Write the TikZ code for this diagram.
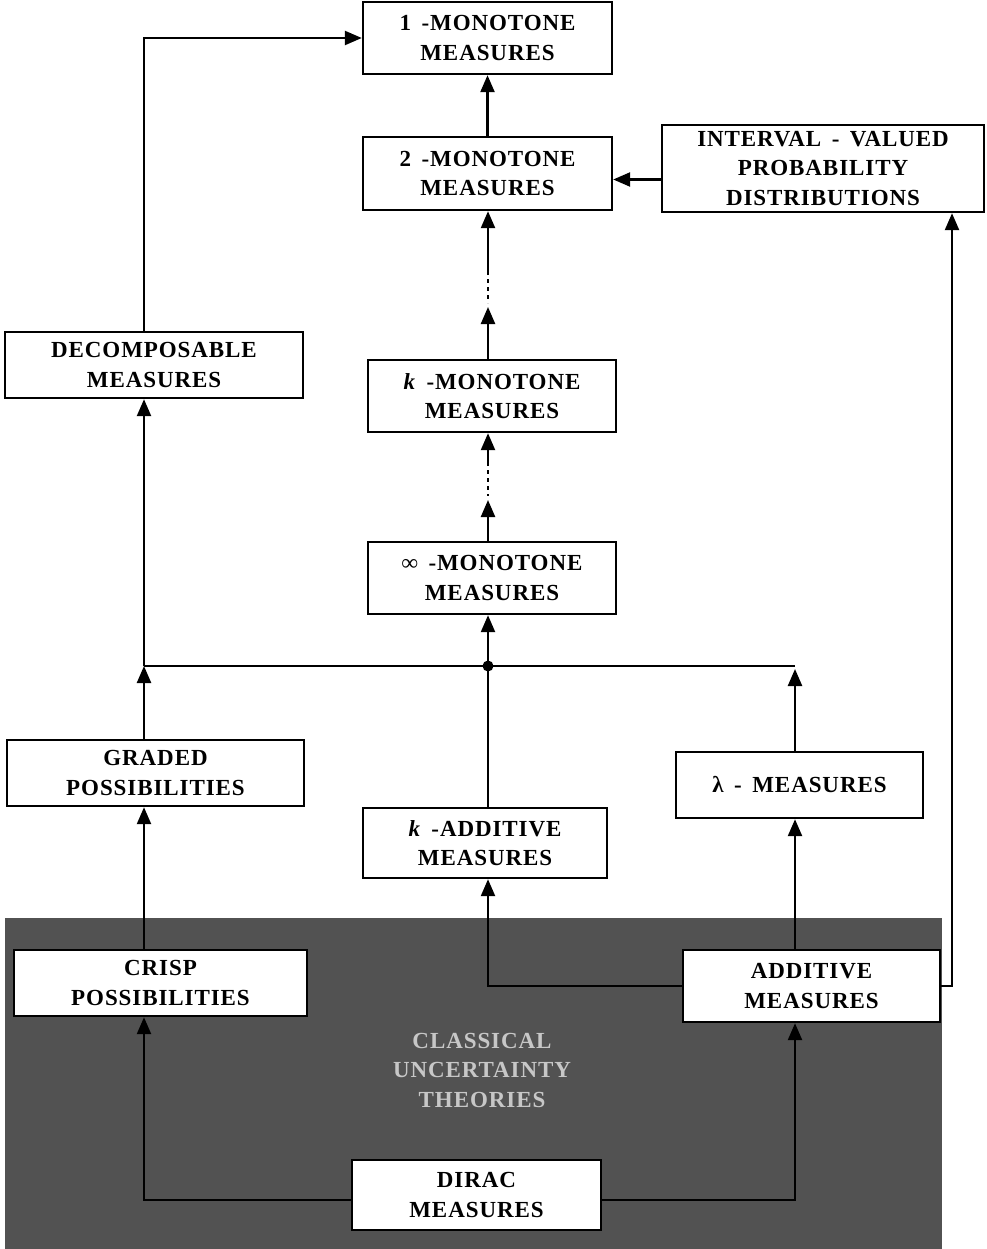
\documentclass[tikz,border=0pt]{standalone}
\usepackage{fontspec}
\setmainfont{Liberation Serif}[LetterSpace=4]
\usetikzlibrary{arrows.meta,calc}
\begin{document}
\begin{tikzpicture}[x=1pt,y=-1pt,
  mbox/.style={draw,line width=2.4pt,fill=white,inner sep=0pt,align=center,
     font=\fontsize{23}{29.5}\selectfont\bfseries},
  arr/.style={line width=2.4pt,-{Triangle[width=14pt,length=17pt]}},
  con/.style={line width=2.4pt},
  dots/.style={line width=2.6pt,dash pattern=on 4pt off 4pt},
  classtext/.style={align=center,text=black!22,
     font=\fontsize{23}{29.5}\selectfont\bfseries}]
\useasboundingbox[fill=white] (0,0) rectangle (986,1249);
% dark region
\fill[black!68] (5,918) rectangle (942,1249);
\node[classtext] (cl) at (482,1070) {CLASSICAL\\UNCERTAINTY\\THEORIES};
% junction coordinates
\coordinate (jl) at (144,666);
\coordinate (jd) at (488,666);
\coordinate (jr) at (795,666);
\coordinate (ivr) at (952,0);
% boxes
\node[mbox,minimum width=249pt,minimum height=72pt] (M1) at (487.5,38) {1 \,-MONOTONE\\MEASURES};
\node[mbox,minimum width=249pt,minimum height=73pt] (M2) at (487.5,173.5) {2 \,-MONOTONE\\MEASURES};
\node[mbox,minimum width=322pt,minimum height=87pt] (IV) at (823,168.5) {INTERVAL \,- \,VALUED\\PROBABILITY\\DISTRIBUTIONS};
\node[mbox,minimum width=298pt,minimum height=66pt] (DEC) at (154,365) {DECOMPOSABLE\\MEASURES};
\node[mbox,minimum width=248pt,minimum height=72pt] (Kmon) at (492,396) {\textit{k} \,-MONOTONE\\MEASURES};
\node[mbox,minimum width=248pt,minimum height=72pt] (Inf) at (492,578) {∞ \,-MONOTONE\\MEASURES};
\node[mbox,minimum width=297pt,minimum height=66pt] (GP) at (155.5,773) {GRADED\\POSSIBILITIES};
\node[mbox,minimum width=247pt,minimum height=66pt] (Lam) at (799.5,785) {λ \,- \,MEASURES};
\node[mbox,minimum width=244pt,minimum height=70pt] (KA) at (485,843) {\textit{k} \,-ADDITIVE\\MEASURES};
\node[mbox,minimum width=293pt,minimum height=66pt] (Crisp) at (160.5,983) {CRISP\\POSSIBILITIES};
\node[mbox,minimum width=257pt,minimum height=72pt] (Add) at (811.5,986) {ADDITIVE\\MEASURES};
\node[mbox,minimum width=249pt,minimum height=70pt] (Dirac) at (476.5,1195) {DIRAC\\MEASURES};
% connectors
\draw[arr] (jl |- DEC.north) |- (M1.west);
\draw[arr] (M2.north) -- (M1.south);
\coordinate (m2e) at ([yshift=-6pt]M2.east);
\draw[arr] (IV.west |- m2e) -- (m2e);
% M2 <- ... <- Kmon
\coordinate (a1) at (488,275);
\coordinate (a2) at (488,279);
\coordinate (a3) at (488,303);
\coordinate (a4) at (488,307);
\draw[arr] (a1) -- (jd |- M2.south);
\draw[dots] (a2) -- (a3);
\draw[arr] (jd |- Kmon.north) -- (a4);
% Kmon <- ... <- Inf
\coordinate (b1) at (488,466);
\coordinate (b2) at (488,470);
\coordinate (b3) at (488,496);
\coordinate (b4) at (488,500);
\draw[arr] (b1) -- (jd |- Kmon.south);
\draw[dots] (b2) -- (b3);
\draw[arr] (jd |- Inf.north) -- (b4);
% junction
\draw[con] (jl) -- (jr);
\fill (jd) circle (5.5pt);
\draw[arr] (jd) -- (jd |- Inf.south);
\draw[arr] (jl) -- (jl |- DEC.south);
\draw[arr] (jl |- GP.north) -- (jl);
\draw[con] (jd |- KA.north) -- (jd);
\draw[arr] ([yshift=-1pt]jr |- Lam.north) -- ([yshift=-3pt]jr);
% lower part
\draw[arr] (jl |- Crisp.north) -- (jl |- GP.south);
\draw[arr] (Add.west) -| (jd |- KA.south);
\draw[arr] (jr |- Add.north) -- (jr |- Lam.south);
\draw[arr] (Add.east) -| (ivr |- IV.south);
\draw[arr] ([yshift=-5pt]Dirac.west) -| (jl |- Crisp.south);
\draw[arr] ([yshift=-5pt]Dirac.east) -| (jr |- Add.south);
\end{tikzpicture}
\end{document}
